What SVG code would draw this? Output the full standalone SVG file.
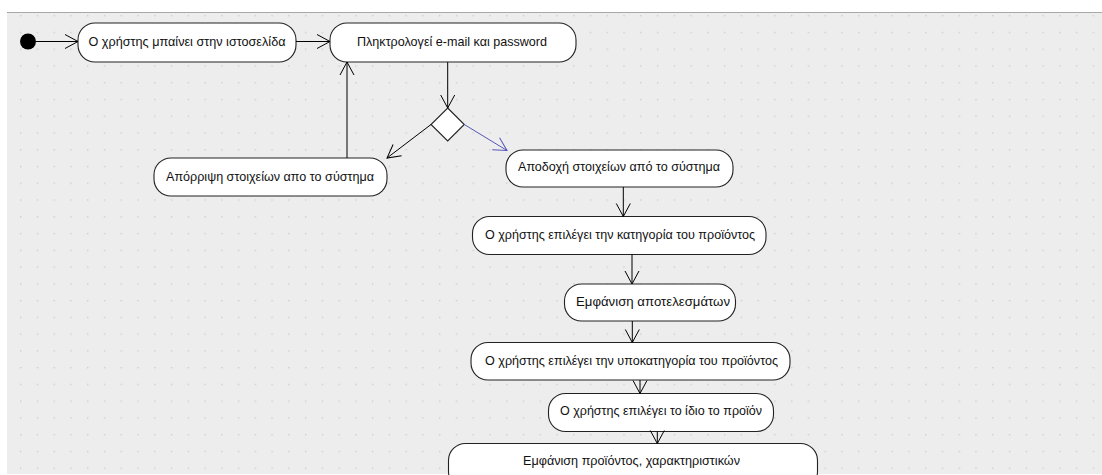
<svg xmlns="http://www.w3.org/2000/svg" width="1102" height="475" viewBox="0 0 1102 475">
<defs>
<pattern id="grid" patternUnits="userSpaceOnUse" x="20" y="15" width="16.76" height="16.76">
<rect x="0" y="0" width="1.4" height="1.4" fill="#cdcdcd"/>
</pattern>
<marker id="arr" markerUnits="userSpaceOnUse" viewBox="-14 -9 16 18" refX="0" refY="0" markerWidth="16" markerHeight="18" orient="auto">
<path d="M-13,-7 L0,0 L-13,7" fill="none" stroke="#000" stroke-width="1"/>
</marker>
<marker id="arrb" markerUnits="userSpaceOnUse" viewBox="-14 -9 16 18" refX="0" refY="0" markerWidth="16" markerHeight="18" orient="auto">
<path d="M-13,-7 L0,0 L-13,7" fill="none" stroke="#5656b8" stroke-width="1"/>
</marker>
</defs>
<style>
.node rect, .node polygon { fill: #fff; stroke: #222; stroke-width: 1.1; }
.node text { font-family: "Liberation Sans", Arial, sans-serif; font-size: 13px; fill: #111; text-anchor: middle; }
.edges line { stroke: #000; stroke-width: 1; fill: none; marker-end: url(#arr); }
.edges line.blue { stroke: #5656b8; marker-end: url(#arrb); }
</style>
<rect x="0" y="0" width="1102" height="475" fill="#fff"/>
<rect x="7" y="13" width="1095" height="461" fill="#ededed"/>
<rect x="7" y="13" width="1095" height="461" fill="url(#grid)"/>
<line x1="7" y1="12.5" x2="1102" y2="12.5" stroke="#a8a8a8" stroke-width="1.2"/>

<g id="start" class="node">
<circle cx="28" cy="41.5" r="8" fill="#000"/>
</g>
<g id="n1" class="node">
<rect x="78" y="23" width="218" height="39" rx="17" ry="17"/>
<text x="187" y="46" textLength="197" lengthAdjust="spacingAndGlyphs">Ο χρήστης μπαίνει στην ιστοσελίδα</text>
</g>
<g id="n2" class="node">
<rect x="330" y="23" width="246" height="39" rx="17" ry="17"/>
<text x="452" y="46" textLength="190" lengthAdjust="spacingAndGlyphs">Πληκτρολογεί e-mail και password</text>
</g>
<g id="decision" class="node">
<polygon points="447.7,108 464.3,124.5 447.7,141 431,124.5"/>
</g>
<g id="reject" class="node">
<rect x="154" y="158" width="233" height="38" rx="17" ry="17"/>
<text x="270" y="180.5" textLength="208" lengthAdjust="spacingAndGlyphs">Απόρριψη στοιχείων απο το σύστημα</text>
</g>
<g id="accept" class="node">
<rect x="506" y="150" width="227" height="37" rx="17" ry="17"/>
<text x="619" y="171" textLength="202" lengthAdjust="spacingAndGlyphs">Αποδοχή στοιχείων από το σύστημα</text>
</g>
<g id="category" class="node">
<rect x="472.5" y="216.5" width="293.5" height="38" rx="17" ry="17"/>
<text x="620" y="239" textLength="270" lengthAdjust="spacingAndGlyphs">Ο χρήστης επιλέγει την κατηγορία του προϊόντος</text>
</g>
<g id="results" class="node">
<rect x="564.5" y="284" width="171" height="37" rx="17" ry="17"/>
<text x="653" y="305.5" textLength="154" lengthAdjust="spacingAndGlyphs">Εμφάνιση αποτελεσμάτων</text>
</g>
<g id="subcategory" class="node">
<rect x="471" y="342.5" width="319" height="37.5" rx="17" ry="17"/>
<text x="631.5" y="364.5" textLength="293" lengthAdjust="spacingAndGlyphs">Ο χρήστης επιλέγει την υποκατηγορία του προϊόντος</text>
</g>
<g id="product" class="node">
<rect x="548.5" y="393.5" width="225" height="38" rx="17" ry="17"/>
<text x="661" y="414.5" textLength="202" lengthAdjust="spacingAndGlyphs">Ο χρήστης επιλέγει το ίδιο το προϊόν</text>
</g>
<g id="display" class="node">
<rect x="448.5" y="443.5" width="369" height="45" rx="17" ry="17"/>
<text x="631.5" y="464.5" textLength="217" lengthAdjust="spacingAndGlyphs">Εμφάνιση προϊόντος, χαρακτηριστικών</text>
</g>

<g id="connectors" class="edges">
<line x1="36" y1="41.5" x2="78" y2="41.5"/>
<line x1="296" y1="41.5" x2="330" y2="41.5"/>
<line x1="447.7" y1="62" x2="447.7" y2="108"/>
<line x1="431" y1="124.5" x2="387" y2="158"/>
<line class="blue" x1="464.3" y1="124.5" x2="507" y2="150.5"/>
<line x1="347" y1="158" x2="347" y2="62"/>
<line x1="623.3" y1="187" x2="623.3" y2="216.5"/>
<line x1="632" y1="254.5" x2="632" y2="284"/>
<line x1="632.3" y1="321" x2="632.3" y2="342.5"/>
<line x1="640" y1="380" x2="640" y2="393.5"/>
<line x1="657.3" y1="431.5" x2="657.3" y2="443.5"/>
</g>
</svg>
